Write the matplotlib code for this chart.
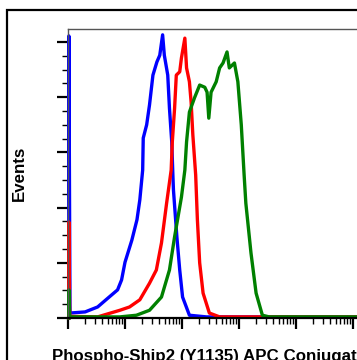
import matplotlib
matplotlib.use("Agg")
import matplotlib.pyplot as plt
from matplotlib.ticker import LogLocator, MultipleLocator, NullFormatter
from matplotlib.patches import Rectangle

plt.rcParams['font.family'] = ['Liberation Sans', 'DejaVu Sans']

# log10 fluorescence intensity (decades) and event counts (axis units)
blue_log = [0.015, 0.015, 0.035, 0.30, 0.52, 0.70, 0.87, 0.94, 1.00, 1.12, 1.21, 1.26,
            1.31, 1.32, 1.38, 1.43, 1.47, 1.49, 1.56, 1.61, 1.66, 1.69, 1.75, 1.78,
            1.82, 1.84, 1.85, 1.91, 1.96, 2.01, 2.13, 2.43, 5.40]
blue_events = [0.0, 5.11, 0.09, 0.11, 0.20, 0.36, 0.51, 0.69, 1.01, 1.41, 1.78, 2.14,
               2.68, 3.26, 3.50, 3.86, 4.22, 4.40, 4.64, 4.76, 5.13, 4.76, 4.40, 3.80,
               3.19, 2.59, 2.32, 1.47, 0.87, 0.38, 0.05, 0.02, 0.02]

red_log = [0.015, 0.015, 0.03, 0.52, 0.91, 1.08, 1.26, 1.43, 1.55, 1.64, 1.73, 1.81,
           1.83, 1.87, 1.90, 1.96, 1.99, 2.05, 2.08, 2.13, 2.16, 2.19, 2.24, 2.27,
           2.31, 2.37, 2.48, 2.66, 5.40]
red_events = [0.0, 1.74, 0.03, 0.02, 0.14, 0.20, 0.33, 0.63, 0.87, 1.36, 2.08, 2.68,
              3.19, 3.80, 4.40, 4.46, 4.71, 5.07, 4.53, 4.28, 3.91, 3.32, 2.59, 1.78,
              1.00, 0.45, 0.09, 0.02, 0.02]

green_log = [0.015, 0.015, 0.03, 0.91, 1.20, 1.43, 1.64, 1.78, 1.87, 1.99, 2.05, 2.08,
             2.13, 2.22, 2.31, 2.40, 2.44, 2.47, 2.51, 2.60, 2.66, 2.72, 2.79, 2.83,
             2.92, 2.98, 3.04, 3.09, 3.12, 3.21, 3.30, 3.41, 3.53, 5.40]
green_events = [0.0, 0.51, 0.02, 0.02, 0.05, 0.14, 0.38, 0.87, 1.47, 2.19, 2.68, 3.19,
                3.73, 3.99, 4.22, 4.18, 4.09, 3.62, 4.09, 4.28, 4.53, 4.62, 4.82, 4.53,
                4.62, 4.28, 3.50, 2.59, 2.08, 1.18, 0.45, 0.05, 0.02, 0.02]

series = [(blue_log, blue_events, '#0000ff'),
          (red_log, red_events, '#ff0000'),
          (green_log, green_events, '#008000')]

xlabel = 'Phospho-Ship2 (Y1135) APC Conjugate'
ylabel = 'Events'

W, H = 357, 360
fig = plt.figure(figsize=(W / 100, H / 100), dpi=100)
fig.add_artist(Rectangle((7 / W, -0.1), 1.2, (H - 10) / H + 0.1,
                         transform=fig.transFigure, fill=False, lw=1.6, ec='black'))

ax = fig.add_axes([68 / W, 42 / H, 300 / W, 288.7 / H])
for lx, ev, col in series:
    ax.plot([10 ** v for v in lx], ev, color=col, lw=2.4, solid_joinstyle='round',
            clip_on=False)

ax.set_xscale('log')
ax.set_xlim(1, 10 ** (300 / 57))
ax.set_ylim(0, 288.7 / 55.2)
ax.xaxis.set_major_locator(LogLocator(base=10))
ax.xaxis.set_minor_locator(LogLocator(base=10, subs=range(2, 10)))
ax.xaxis.set_major_formatter(NullFormatter())
ax.xaxis.set_minor_formatter(NullFormatter())
ax.yaxis.set_major_locator(MultipleLocator(1))
ax.yaxis.set_minor_locator(MultipleLocator(0.25))
ax.yaxis.set_major_formatter(NullFormatter())
ax.yaxis.set_minor_formatter(NullFormatter())
ax.tick_params(which='major', length=8, width=1.6, direction='out', color='black')
ax.tick_params(which='minor', length=4, width=1.0, direction='out', color='black')

ax.spines['top'].set_color('#555555')
ax.spines['top'].set_linewidth(1.0)
ax.spines['left'].set_color('#555555')
ax.spines['left'].set_linewidth(1.0)
ax.spines['bottom'].set_color('black')
ax.spines['bottom'].set_linewidth(1.6)
ax.spines['right'].set_visible(False)

fig.text(19.5 / W, 1 - 173 / H, ylabel, rotation=90, fontsize=12.2, fontweight='bold',
         ha='center', va='center')
fig.text(52 / W, -1 / H, xlabel, fontsize=12.2, fontweight='bold', ha='left', va='baseline')

fig.savefig('out.png', dpi=100)
